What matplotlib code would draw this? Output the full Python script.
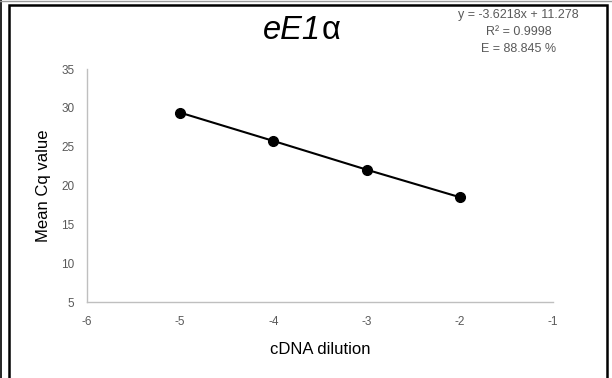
import matplotlib.pyplot as plt
from matplotlib.patches import Rectangle
from matplotlib.lines import Line2D

plt.rcParams['font.family'] = ['Liberation Sans', 'DejaVu Sans']
plt.rcParams['axes.unicode_minus'] = False

# data
dilucion = [-5, -4, -3, -2]
cq_medio = [29.4, 25.75, 22.05, 18.5]
xticks = [-6, -5, -4, -3, -2, -1]
yticks = [5, 10, 15, 20, 25, 30, 35]
ecuacion = ['y = -3.6218x + 11.278', 'R² = 0.9998', 'E = 88.845 %']

fig = plt.figure(figsize=(6.12, 3.78), dpi=100)
ax = fig.add_axes([0.142, 0.201, 0.762, 0.616])

ax.plot(dilucion, cq_medio, color='black', lw=1.5, marker='o', ms=7, zorder=3)

ax.set_xlim(-6, -1)
ax.set_ylim(5, 35)
ax.set_xticks(xticks)
ax.set_yticks(yticks)
ax.tick_params(length=0, labelsize=8.5, colors='#595959')
ax.tick_params(axis='x', pad=10)
ax.tick_params(axis='y', pad=9)
for s in ['top', 'right']:
    ax.spines[s].set_visible(False)
for s in ['left', 'bottom']:
    ax.spines[s].set_color('#bfbfbf')
    ax.spines[s].set_linewidth(1)

ax.set_xlabel('cDNA dilution', fontsize=12, labelpad=10)
ax.set_ylabel('Mean Cq value', fontsize=12, labelpad=7)

# title: italic gene name, upright alpha
fig.text(0.525, 0.918, 'eE1', fontsize=23.5, style='italic', ha='right', va='center')
fig.text(0.525, 0.918, 'α', fontsize=23.5, ha='left', va='center')

for i, linea in enumerate(ecuacion):
    fig.text(0.847, 0.961 - i * 0.045, linea, fontsize=9, color='#595959',
             ha='center', va='center')

# frame around the chart
fig.patches.append(Rectangle((9 / 612, -0.05), 598 / 612, 1 - 5 / 378 + 0.05,
                             transform=fig.transFigure, fill=False,
                             edgecolor='black', lw=1.8))
fig.lines.append(Line2D([0.5 / 612, 0.5 / 612], [0, 1], transform=fig.transFigure,
                        color='black', lw=1.2))
fig.lines.append(Line2D([0, 1], [1 - 0.5 / 378, 1 - 0.5 / 378], transform=fig.transFigure,
                        color='#9a9a9a', lw=1.0))

fig.savefig('out.png', dpi=100)
